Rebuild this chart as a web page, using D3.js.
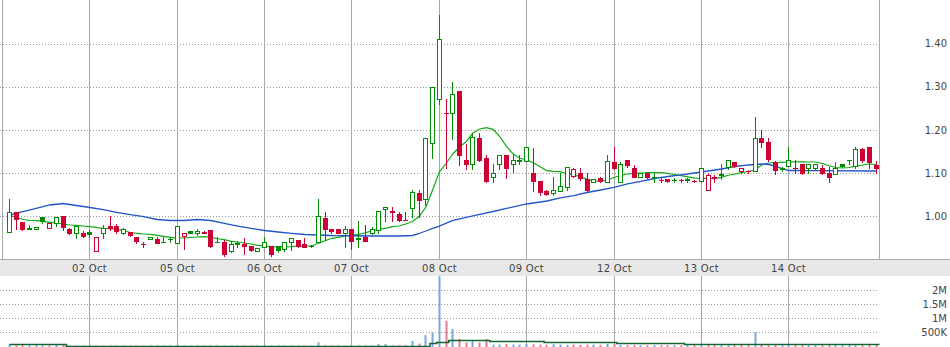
<!DOCTYPE html>
<html><head><meta charset="utf-8">
<script src="https://cdn.jsdelivr.net/npm/d3@7"></script>
<style>html,body{margin:0;padding:0;background:#fff;}svg{display:block;}</style>
</head><body>
<svg id="c" width="950" height="347"></svg>
<script>
// ---- data ----
const dayLabels = ["02 Oct","05 Oct","06 Oct","07 Oct","08 Oct","09 Oct","12 Oct","13 Oct","14 Oct"];
const dayStart  = [12,25,38,51,64,77,90,103,116];
const priceTicks = [1.0,1.1,1.2,1.3,1.4];
const volTicks = [0.5,1,1.5,2];
const volTickLabels = ["500K","1M","1.5M","2M"];

const open = [0.963,1.009,0.986,0.971,0.970,0.998,0.972,0.984,1.000,0.971,
0.961,0.962,0.964,0.920,0.961,0.977,0.977,0.961,0.963,0.952,
0.936,0.947,0.947,0.9405,0.9475,0.939,0.954,0.965,0.9606,0.963,
0.968,0.940,0.941,0.920,0.937,0.936,0.931,0.920,0.929,0.931,
0.931,0.925,0.940,0.945,0.936,0.9305,0.941,0.9954,0.9706,0.9706,
0.9606,0.9706,0.948,0.9514,0.9606,0.9683,1.0162,1.0116,1.0046,0.9910,
1.0185,1.0546,1.0394,1.1704,1.2708,1.2400,1.2398,1.290,1.1303,1.1204,
1.1819,1.1356,1.0903,1.1204,1.1419,1.1204,1.1270,1.1280,1.0995,1.0817,
1.0593,1.0546,1.0593,1.0685,1.0935,1.1009,1.0856,1.0801,1.0894,1.0801,
1.1264,1.0801,1.1303,1.1111,1.0903,1.0995,1.0900,1.0842,1.0855,1.0830,
1.0830,1.0850,1.0825,1.0825,1.0609,1.0917,1.0965,1.1134,1.1257,1.1056,
1.1058,1.1049,1.1806,1.1713,1.1257,1.1120,1.1157,1.1115,1.1211,1.1111,
1.1111,1.1111,1.0995,1.0972,1.1211,1.1300,1.1164,1.1551,1.1597,1.1187];
const high = [1.039,1.010,0.987,0.980,0.976,0.998,0.987,0.999,1.001,0.972,
0.976,0.966,0.968,0.951,0.981,1.001,0.982,0.972,0.963,0.952,
0.941,0.951,0.951,0.951,0.951,0.9775,0.9606,0.965,0.970,0.966,
0.968,0.951,0.945,0.941,0.943,0.949,0.931,0.9275,0.9514,0.931,
0.931,0.941,0.949,0.946,0.950,0.9325,1.040,1.010,0.9706,0.971,
0.9775,0.9706,0.9891,0.979,0.9759,1.0116,1.0208,1.0215,1.0100,1.010,
1.0609,1.0609,1.1806,1.300,1.466,1.2708,1.3116,1.290,1.1674,1.1921,
1.1921,1.1419,1.121,1.1419,1.1419,1.1419,1.1419,1.1597,1.1574,1.0817,
1.0610,1.0903,1.0995,1.1135,1.1111,1.1111,1.1009,1.0856,1.0910,1.1419,
1.1611,1.1265,1.1303,1.1190,1.0995,1.0995,1.1032,1.0894,1.0855,1.0894,
1.0870,1.0880,1.0850,1.1111,1.1000,1.0956,1.1211,1.1303,1.1257,1.1111,
1.1080,1.2292,1.1998,1.1806,1.128,1.1150,1.1597,1.1303,1.1211,1.1204,
1.1211,1.1180,1.1134,1.1264,1.1211,1.1303,1.1597,1.1589,1.1597,1.1287];
const low = [0.963,0.970,0.968,0.970,0.970,0.985,0.972,0.978,0.968,0.958,
0.950,0.951,0.953,0.920,0.950,0.968,0.962,0.960,0.955,0.939,
0.930,0.947,0.9375,0.940,0.9405,0.939,0.9236,0.9615,0.9575,0.961,
0.930,0.940,0.908,0.918,0.9296,0.913,0.920,0.920,0.929,0.908,
0.918,0.920,0.922,0.930,0.929,0.930,0.941,0.945,0.9606,0.961,
0.9296,0.9236,0.9296,0.943,0.9599,0.9606,0.990,0.9898,0.990,0.9905,
0.9977,0.9991,1.0262,1.1343,1.2593,1.111,1.179,1.118,1.1095,1.1095,
1.128,1.0787,1.0787,1.1095,1.0894,1.1032,1.1210,1.128,1.0593,1.0493,
1.0493,1.0493,1.0593,1.0600,1.0900,1.085,1.0586,1.0790,1.0800,1.0801,
1.1095,1.080,1.1150,1.0900,1.0903,1.088,1.0801,1.0801,1.0801,1.0801,
1.0801,1.0801,1.0801,1.0800,1.0609,1.0801,1.0870,1.1090,1.1134,1.1010,
1.1010,1.1049,1.1597,1.128,1.0972,1.1050,1.1157,1.1010,1.0980,1.0995,
1.1100,1.0980,1.0801,1.0972,1.1134,1.1211,1.1111,1.1264,1.1111,1.0995];
const close = [1.009,0.993,0.971,0.972,0.976,0.990,0.985,0.999,0.976,0.961,
0.9775,0.954,0.959,0.951,0.974,0.972,0.967,0.970,0.957,0.943,
0.9355,0.951,0.939,0.941,0.9485,0.9775,0.9606,0.9615,0.9667,0.9625,
0.9312,0.941,0.913,0.936,0.9375,0.931,0.922,0.9273,0.941,0.913,
0.922,0.941,0.949,0.931,0.9296,0.931,1.0007,0.9706,0.966,0.9622,
0.9699,0.9435,0.9493,0.9430,0.9699,1.0116,1.0208,1.0100,0.9914,0.9907,
1.0556,1.0377,1.1806,1.300,1.4097,1.2398,1.2824,1.1419,1.1211,1.1843,
1.1303,1.0817,1.0995,1.1419,1.1125,1.1303,1.1310,1.1597,1.0817,1.0569,
1.0516,1.0608,1.0701,1.1135,1.1100,1.0880,1.0609,1.0856,1.0817,1.128,
1.1125,1.1204,1.1188,1.0917,1.0995,1.0917,1.0920,1.0840,1.0817,1.0840,
1.0830,1.0860,1.0822,1.1111,1.0956,1.0880,1.0975,1.1303,1.1169,1.1111,
1.1055,1.1806,1.1727,1.1319,1.1080,1.1090,1.1303,1.1111,1.0995,1.1204,
1.1211,1.0995,1.0917,1.1111,1.1164,1.1303,1.1551,1.1303,1.1264,1.1125];

// short moving average (green), one value per candle
const maShort = [1.0030,0.9977,0.9931,0.9903,0.9898,0.9884,0.9861,0.9845,0.9822,0.9799,
0.9792,0.9775,0.9759,0.9745,0.9718,0.9713,0.9699,0.9671,0.9625,0.9606,
0.9590,0.9583,0.9560,0.9537,0.9514,0.9498,0.9498,0.9509,0.9521,0.9528,
0.9514,0.9481,0.9458,0.9421,0.9405,0.9382,0.9359,0.9329,0.9313,0.9301,
0.9289,0.9289,0.9296,0.9313,0.9313,0.9313,0.9375,0.9435,0.9491,0.9514,
0.9544,0.9567,0.9583,0.9620,0.9667,0.9699,0.9722,0.9759,0.9775,0.9822,
0.9880,0.9995,1.0215,1.0609,1.1025,1.1222,1.1442,1.1604,1.1727,1.1928,
1.2021,1.2051,1.2014,1.1847,1.1611,1.1442,1.1343,1.1303,1.1241,1.1148,
1.1056,1.1042,1.1032,1.0979,1.0956,1.0917,1.0856,1.0817,1.0817,1.0840,
1.0898,1.0944,1.0979,1.0995,1.1002,1.1009,1.1009,1.1009,1.0995,1.0968,
1.0940,1.0914,1.0882,1.0880,1.0880,1.0880,1.0900,1.0951,1.0979,1.1009,
1.1037,1.1072,1.1192,1.1234,1.1245,1.1250,1.1257,1.1262,1.1262,1.1257,
1.1257,1.1222,1.1171,1.1130,1.1118,1.1130,1.1160,1.1188,1.1211,1.1199];

// long moving average (blue), read at these candle positions
const maLongIdx = [0,2,4,6,8,10,12,14,16,18,20,22,24,26,28,30,32,34,36,38,40,42,44,48,54,58,60,61,62,63,64,66,68,70,72,74,77,80,82,84,86,88,90,92,94,96,98,100,102,104,106,108,110,112,113,114,115,116,120,129];
const maLongVal = [1.0030,1.0111,1.0185,1.0262,1.0296,1.0250,1.0204,1.0157,1.0093,1.0037,0.9995,0.9926,0.9903,0.9903,0.9926,0.9903,0.9838,0.9775,0.9718,0.9671,0.9637,0.9606,0.9579,0.9556,0.9544,0.9544,0.9556,0.9602,0.9660,0.9722,0.9775,0.9907,0.9977,1.0042,1.0111,1.0181,1.0285,1.0354,1.0424,1.0481,1.0551,1.0609,1.0667,1.0748,1.0806,1.0875,1.0921,1.0961,1.1002,1.1049,1.1095,1.1153,1.1188,1.1211,1.1199,1.1164,1.1106,1.1060,1.1056,1.1049];

// volume in millions
const volume = [0.05,0.04,0.04,0.03,0.03,0.03,0.03,0.08,0.04,0.03,
0.03,0.03,0.03,0.03,0.03,0.03,0.03,0.03,0.03,0.03,
0.03,0.03,0.03,0.03,0.03,0.04,0.03,0.03,0.03,0.03,
0.03,0.03,0.03,0.03,0.03,0.03,0.03,0.03,0.03,0.03,
0.03,0.03,0.03,0.03,0.03,0.03,0.14,0.04,0.03,0.03,
0.03,0.03,0.03,0.03,0.03,0.08,0.08,0.03,0.04,0.05,
0.19,0.10,0.40,0.50,2.49,0.91,0.62,0.26,0.14,0.22,
0.14,0.26,0.06,0.06,0.08,0.06,0.06,0.08,0.07,0.06,
0.06,0.07,0.06,0.05,0.06,0.05,0.06,0.06,0.05,0.09,
0.07,0.05,0.04,0.04,0.04,0.04,0.04,0.04,0.04,0.04,
0.04,0.04,0.04,0.04,0.04,0.04,0.04,0.04,0.04,0.04,
0.04,0.50,0.05,0.04,0.04,0.04,0.04,0.04,0.04,0.04,
0.04,0.04,0.04,0.04,0.04,0.04,0.04,0.04,0.04,0.04];
// volume moving average (step line): new level starts at candle index
const volMaIdx = [0,8.5,62.6,63.6,65.4,71.5,79.6,90.4,100.5,129.5];
const volMaVal = [0.07,0.02,0.11,0.14,0.21,0.19,0.14,0.11,0.07,0.07];

// ---- drawing ----
const svg = d3.select("#c");
const FONT = "DejaVu Sans, Verdana, sans-serif";
const n = close.length;
const x = d3.scaleLinear().domain([0, n-1]).range([9.3, 876.1]);
const y = d3.scaleLinear().domain([1.0, 1.4]).range([216.3, 43.5]);
const yv = d3.scaleLinear().domain([0, 2]).range([346.3, 290.3]);
const px = i => Math.floor(x(i)) + 0.5;
const plotL = 0, plotR = 879.5, mainB = 259.5, volT = 276, H = 347;

// band under the main plot
svg.append("rect").attr("x",0).attr("y",mainB).attr("width",950).attr("height",volT-mainB).attr("fill","#e8e8e8");

// horizontal dotted grid lines (price)
svg.append("g").selectAll("line").data(priceTicks).join("line")
  .attr("x1",plotL).attr("x2",plotR-0.5)
  .attr("y1",d=>Math.round(y(d))+0.5).attr("y2",d=>Math.round(y(d))+0.5)
  .attr("stroke","#9a9a9a").attr("stroke-dasharray","1,2");
// volume dotted grid
svg.append("g").selectAll("line").data(volTicks).join("line")
  .attr("x1",plotL).attr("x2",plotR-0.5)
  .attr("y1",d=>Math.round(yv(d))+0.5).attr("y2",d=>Math.round(yv(d))+0.5)
  .attr("stroke","#9a9a9a").attr("stroke-dasharray","1,2");

// vertical day grid lines
const vg = svg.append("g").attr("stroke","#a8a8a8").attr("stroke-width",1);
vg.selectAll(".m").data([-1].concat(dayStart)).join("line").attr("class","m")
  .attr("x1",d=>px(d)).attr("x2",d=>px(d)).attr("y1",0).attr("y2",mainB);
vg.selectAll(".v").data(dayStart).join("line").attr("class","v")
  .attr("x1",d=>px(d)).attr("x2",d=>px(d)).attr("y1",volT).attr("y2",H);
vg.append("line").attr("x1",plotR).attr("x2",plotR).attr("y1",0).attr("y2",mainB);
svg.append("line").attr("x1",0).attr("x2",950).attr("y1",mainB).attr("y2",mainB).attr("stroke","#a8a8a8");

// moving averages
const lineShort = d3.line().x((d,i)=>x(i)).y(d=>y(d));
svg.append("path").attr("d",lineShort(maShort)).attr("fill","none").attr("stroke","#11aa11").attr("stroke-width",1.2);
const lineLong = d3.line().x(d=>x(d[0])).y(d=>y(d[1]));
svg.append("path").attr("d",lineLong(maLongIdx.map((d,i)=>[d,maLongVal[i]])))
  .attr("fill","none").attr("stroke","#2255cc").attr("stroke-width",1.3);

// candles
const up = i => i===0 ? close[i]>=open[i] : close[i]>=close[i-1];
const RED = "#cc0033", GREEN = "#008c00";
const cg = svg.append("g");
d3.range(n).forEach(i=>{
  const col = up(i) ? GREEN : RED;
  const cx = px(i);
  const g = cg.append("g");
  g.append("line").attr("x1",cx).attr("x2",cx)
    .attr("y1",Math.round(y(high[i]))).attr("y2",Math.round(y(low[i]))+1)
    .attr("stroke",col);
  const top = Math.round(y(Math.max(open[i],close[i])));
  const bot = Math.round(y(Math.min(open[i],close[i])));
  const hollow = close[i] > open[i];
  if (bot - top < 1) {
    g.append("line").attr("x1",cx-2.5).attr("x2",cx+2.5).attr("y1",top+0.5).attr("y2",top+0.5).attr("stroke",col);
  } else {
    g.append("rect").attr("x",cx-2).attr("y",top+0.5).attr("width",4).attr("height",bot-top)
      .attr("fill",hollow ? "#fff" : col).attr("stroke",col);
  }
});

// volume bars
svg.append("g").selectAll("rect").data(volume).join("rect")
  .attr("x",(d,i)=>Math.floor(x(i))-0.5).attr("width",2)
  .attr("y",d=>yv(d)).attr("height",d=>H-yv(d))
  .attr("fill",(d,i)=>up(i) ? "#7ba7d8" : "#e37b9b");
// volume MA
const volLine = d3.line().curve(d3.curveStepAfter).x(d=>x(d[0])).y(d=>Math.round(yv(d[1]))+0.5);
svg.append("path").attr("d",volLine(volMaIdx.map((d,i)=>[d,volMaVal[i]])))
  .attr("fill","none").attr("stroke","#116633").attr("stroke-width",1.6);

// labels
const tg = svg.append("g").attr("font-family",FONT).attr("font-size",10).attr("fill","#444");
tg.selectAll(".p").data(priceTicks).join("text").attr("class","p")
  .attr("x",947).attr("y",d=>y(d)+3.7).attr("text-anchor","end").text(d=>d.toFixed(2));
tg.selectAll(".vl").data(volTicks).join("text").attr("class","vl")
  .attr("x",947).attr("y",d=>yv(d)+3.7).attr("text-anchor","end").text((d,i)=>volTickLabels[i]);
tg.selectAll(".d").data(dayStart).join("text").attr("class","d")
  .attr("x",d=>px(d)).attr("y",271.5).attr("text-anchor","middle").attr("letter-spacing",0.3)
  .text((d,i)=>dayLabels[i]);
</script>
</body></html>
